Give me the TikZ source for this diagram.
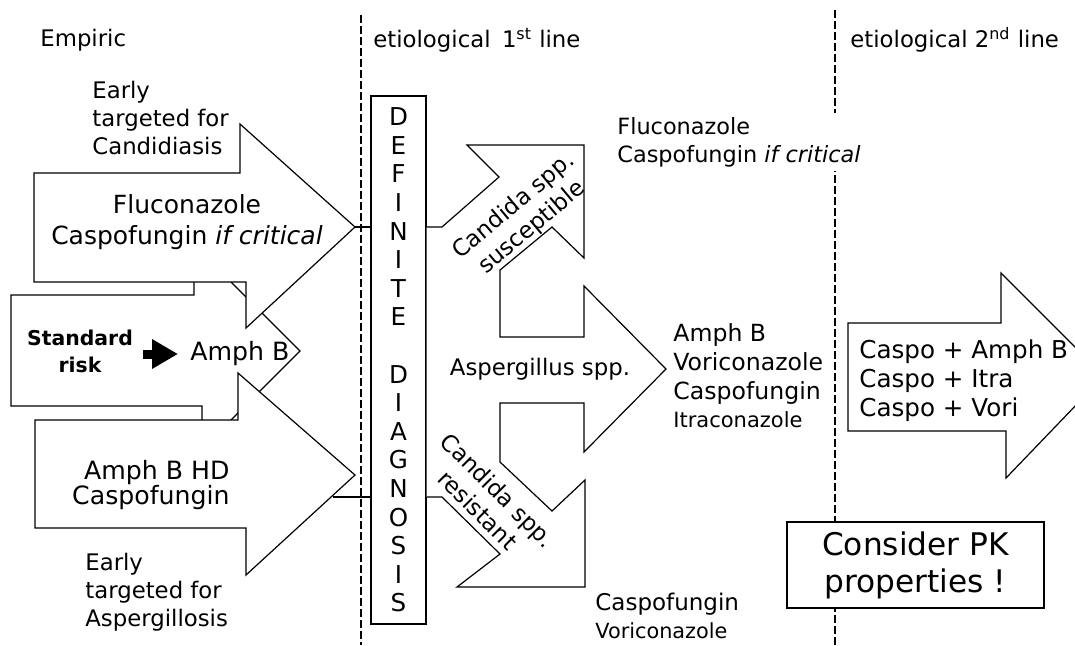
\documentclass[tikz,border=0pt]{standalone}
\usepackage{fontspec}
\setmainfont{DejaVu Sans}
\usetikzlibrary{arrows.meta}

\begin{document}
\begin{tikzpicture}[x=0.5pt, y=-0.5pt,
		outline/.style={draw, line width=0.6pt, fill=white, line join=miter},
		divider/.style={line width=0.6pt, dash pattern=on 4pt off 1.5pt},
		lbl/.style={inner sep=0pt, align=left, font=\fontsize{11.4}{14}\selectfont},
		fatarrow/.style={line width=4.5pt, -{Triangle[length=13pt,width=14pt]}}]
		\useasboundingbox (0,0) rectangle (1075,645);

		% Column dividers
		\coordinate (div1) at (361,15);
		\coordinate (div2) at (835,10);
		\draw[divider] (div1) -- (div1 |- 0,645);
		\draw[divider] (div2) -- (div2 |- 0,645);

		% Column headings
		\node[lbl, anchor=west] (empiric) at (40,40) {Empiric};
		\node[lbl, anchor=west] (firstline) at (373,40) {etiological\enspace 1\textsuperscript{st} line};
		\node[lbl, anchor=west] (secondline) at (850,40) {etiological 2\textsuperscript{nd} line};

		% Empiric arrows (standard risk one lies behind)
		\draw[outline] (11,295) -- (194,295) -- (194,245) -- (300,351) -- (202,449) -- (202,406) -- (11,406) -- cycle;
		\draw[outline] (34,173) -- (240,173) -- (240,124) -- (355,227) -- (246,328) -- (246,282) -- (34,282) -- cycle;
		\draw[outline] (35,420) -- (238,420) -- (238,373) -- (355,475) -- (246,575) -- (246,528) -- (35,528) -- cycle;
		\coordinate (a1tip) at (355,227);
		\coordinate (a3edge) at (333,497);

		% Texts of the empiric arrows
		\node[lbl] (candlbl) [anchor=west] at (92,118) {Early\\targeted for\\Candidiasis};
		\node[lbl, align=center, font=\fontsize{12.5}{15.5}\selectfont] (fluco) at (187,222)
			{Fluconazole\\Caspofungin \textit{if critical}};
		\node[lbl, align=center, font=\fontsize{10.2}{13.5}\selectfont\bfseries] (stdrisk) at (80,351) {Standard\\risk};
		\node[lbl, anchor=west, font=\fontsize{12.6}{15}\selectfont] (amphb) at (190,354) {Amph B};
		\draw[fatarrow, shorten <=5pt, shorten >=6pt] (stdrisk.east |- amphb.west) -- (amphb.west);
		\node[lbl, anchor=east, align=right, font=\fontsize{12.6}{12.5}\selectfont] (amphbhd) at (230,485)
			{Amph B HD\\Caspofungin};
		\node[lbl, anchor=west] (asplbl) at (85,592) {Early\\targeted for\\Aspergillosis};

		% Definite diagnosis
		\node[draw, line width=0.6pt, fill=white, minimum width=27.5pt, minimum height=264pt,
			inner sep=0pt, align=center, font=\fontsize{12.3}{14.3}\selectfont] (diag) at (398.5,360)
			{D\\E\\F\\I\\N\\I\\T\\E\\[14.3pt]D\\I\\A\\G\\N\\O\\S\\I\\S};
		\draw[line width=0.6pt] (a1tip) -- (a1tip -| diag.west);
		\draw[line width=0.6pt] (a3edge) -- (a3edge -| diag.west);

		% Etiological branches
		\draw[outline] (diag.east |- 0,227) -- (442,227) -- (499,177) -- (467,145) -- (584,145) -- (584,258)
			-- (552,227) -- (500,270) -- (500,337) -- (584,337) -- (584,286) -- (666,369) -- (584,452)
			-- (584,403) -- (500,403) -- (500,462) -- (552,511) -- (585,480) -- (585,587) -- (457,587)
			-- (500,554) -- (442,497) -- (diag.east |- 0,497);
		\node[lbl, align=center, rotate=40, font=\fontsize{11.5}{14}\selectfont] (suscept) at (523,217)
			{Candida spp.\\susceptible};
		\node[lbl, align=center, font=\fontsize{11.4}{14}\selectfont] (asperg) at (540,369) {Aspergillus spp.};
		\node[lbl, align=center, rotate=-45, font=\fontsize{11.5}{14}\selectfont] (resist) at (488,500)
			{Candida spp.\\resistant};

		% First line drugs
		\node[lbl, anchor=west, fill=white, inner sep=2pt, font=\fontsize{11.2}{14}\selectfont] (flucotr) at (613,142)
			{Fluconazole\\Caspofungin \textit{if critical}};
		\node[lbl, anchor=west, font=\fontsize{11.8}{14.3}\selectfont] (amphlist) at (673,376)
			{Amph B\\Voriconazole\\Caspofungin\\{\fontsize{10.5}{13}\selectfont Itraconazole}};
		\node[lbl, anchor=west, font=\fontsize{11.5}{14}\selectfont] (caspolist) at (595,616)
			{Caspofungin\\{\fontsize{10.4}{13}\selectfont Voriconazole}};

		% Second line
		\draw[outline] (848,323) -- (1001,323) -- (1001,273) -- (1104,376) -- (1006,478) -- (1006,431) -- (848,431) -- cycle;
		\node[lbl, anchor=west, font=\fontsize{12.3}{14.5}\selectfont] (combos) at (859,381)
			{Caspo + Amph B\\Caspo + Itra\\Caspo + Vori};
		\node[draw, line width=0.6pt, fill=white, minimum width=128.5pt, minimum height=43pt, inner sep=0pt,
			align=center, font=\fontsize{15.6}{18.5}\selectfont] (pk) at (915.5,565) {Consider PK\\properties !};

	\end{tikzpicture}
\end{document}
